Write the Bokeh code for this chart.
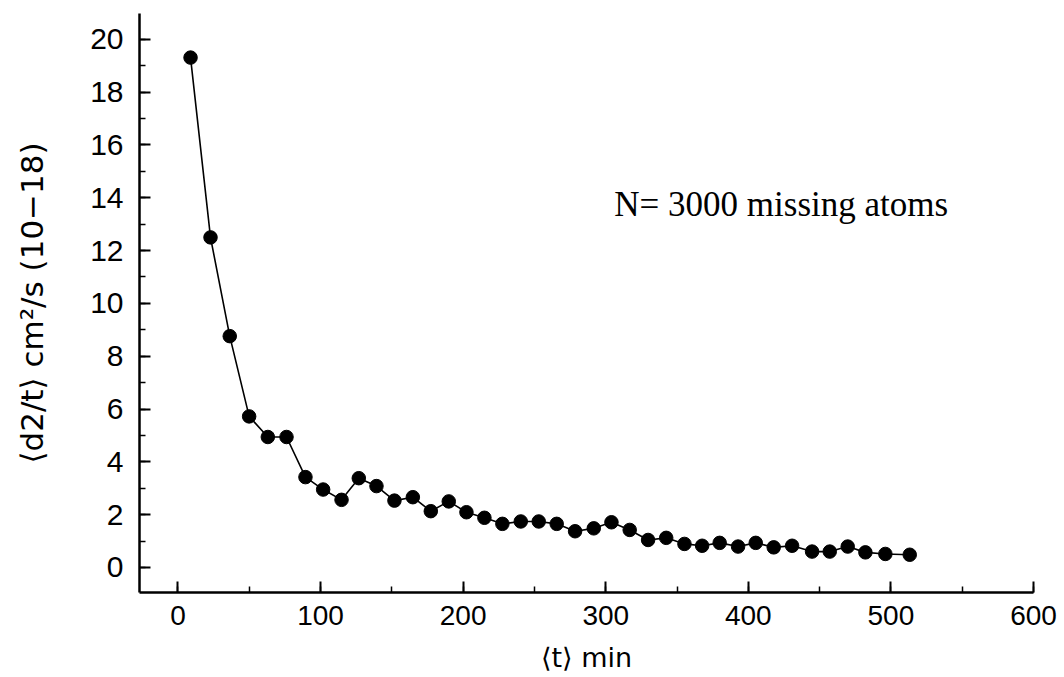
from bokeh.plotting import figure
from bokeh.models import Label, Range1d, SingleIntervalTicker, ColumnDataSource
from bokeh.embed import file_html
from bokeh.resources import INLINE

# Data
t_min = [8.8, 22.8, 36.3, 49.9, 63.0, 76.1, 89.4, 101.8, 114.7, 126.8,
         139.2, 151.8, 164.7, 177.3, 189.9, 202.3, 214.9, 227.5, 240.4, 253.0,
         265.6, 278.5, 291.6, 304.0, 316.8, 329.7, 342.4, 355.2, 367.6, 379.9,
         392.8, 405.2, 417.8, 430.7, 444.7, 457.1, 469.7, 482.1, 496.1, 513.2]
d2_t = [19.31, 12.50, 8.76, 5.72, 4.94, 4.94, 3.42, 2.95, 2.56, 3.38,
        3.08, 2.53, 2.66, 2.13, 2.50, 2.09, 1.88, 1.65, 1.74, 1.74,
        1.65, 1.37, 1.48, 1.71, 1.42, 1.04, 1.12, 0.89, 0.82, 0.93,
        0.79, 0.93, 0.76, 0.82, 0.60, 0.60, 0.79, 0.57, 0.51, 0.48]

x_label = "\u27e8t\u27e9 min"
y_label = "\u27e8d2/t\u27e9 cm\u00b2/s (10\u221218)"
note = "N= 3000 missing atoms"

src = ColumnDataSource(dict(t=t_min, v=d2_t))

p = figure(width=1064, height=677, output_backend="svg", toolbar_location=None,
           x_range=Range1d(-27, 600), y_range=Range1d(-0.95, 20.98),
           min_border_left=139, min_border_right=31, min_border_top=13,
           min_border_bottom=85, background_fill_color="white",
           border_fill_color="white")
p.outline_line_color = None
p.grid.visible = False

p.line("t", "v", source=src, line_color="black", line_width=1.6)
p.scatter("t", "v", source=src, size=13.5, marker="circle",
          fill_color="black", line_color="black")

for ax, interval in ((p.xaxis[0], 100), (p.yaxis[0], 2)):
    ax.ticker = SingleIntervalTicker(interval=interval, num_minor_ticks=2)
    ax.axis_line_width = 2.5
    ax.axis_line_color = "black"
    ax.major_tick_in = 11
    ax.major_tick_out = 0
    ax.minor_tick_in = 6
    ax.minor_tick_out = 0
    ax.major_tick_line_width = 2
    ax.minor_tick_line_width = 1.5
    ax.major_tick_line_color = "black"
    ax.minor_tick_line_color = "black"
    ax.major_label_text_color = "black"
    ax.axis_label_text_color = "black"
    ax.axis_label_text_font_style = "normal"
    ax.major_label_text_font = "Liberation Sans"

p.xaxis.major_label_text_font_size = "28px"
p.xaxis.major_label_standoff = 13
p.xaxis.axis_label = x_label
p.xaxis.axis_label_text_font = "DejaVu Sans"
p.xaxis.axis_label_text_font_size = "27px"
p.xaxis.axis_label_standoff = 14

p.yaxis.major_label_text_font_size = "30px"
p.yaxis.major_label_standoff = 16
p.yaxis.axis_label = y_label
p.yaxis.axis_label_text_font = "DejaVu Sans"
p.yaxis.axis_label_text_font_size = "31px"
p.yaxis.axis_label_standoff = 37

p.add_layout(Label(x=306, y=13.76, text=note, text_font="Liberation Serif",
                   text_font_size="35px", text_color="black",
                   text_baseline="alphabetic"))

open("out.html", "w").write(file_html(p, INLINE))
